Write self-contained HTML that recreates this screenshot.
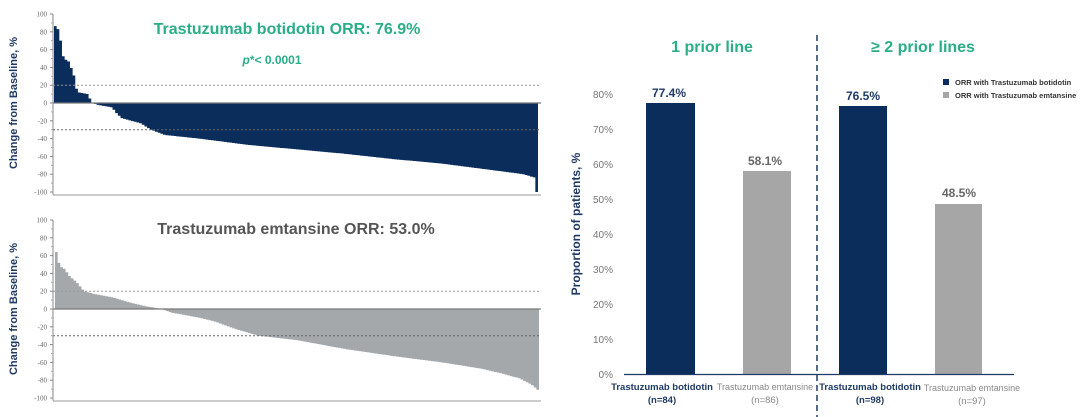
<!DOCTYPE html>
<html><head><meta charset="utf-8"><style>
html,body{margin:0;padding:0;background:#fff;}
svg{display:block;font-family:"Liberation Sans",Arial,sans-serif;}
</style></head><body>
<svg id="s" width="1080" height="417" viewBox="0 0 1080 417" xmlns="http://www.w3.org/2000/svg">
<g id="gtop"></g>
<g id="gbot"></g>
<g font-family="Liberation Serif,serif" font-size="7" fill="#666" text-anchor="end" id="ticks"></g>
<text transform="translate(17,103) rotate(-90)" text-anchor="middle" font-size="11" font-weight="bold" fill="#1f3a64">Change from Baseline, %</text>
<text transform="translate(17,309) rotate(-90)" text-anchor="middle" font-size="11" font-weight="bold" fill="#1f3a64">Change from Baseline, %</text>
<text x="287" y="34" text-anchor="middle" font-size="16" font-weight="bold" fill="#2aae86">Trastuzumab botidotin ORR: 76.9%</text>
<text x="272" y="64" text-anchor="middle" font-size="12" font-weight="bold" fill="#2aae86"><tspan font-style="italic">p</tspan>*&lt; 0.0001</text>
<text x="296" y="234" text-anchor="middle" font-size="16" font-weight="bold" fill="#555">Trastuzumab emtansine ORR: 53.0%</text>

<g font-size="10" fill="#777" text-anchor="end">
<text x="613" y="378">0%</text><text x="613" y="343">10%</text><text x="613" y="308">20%</text><text x="613" y="273">30%</text><text x="613" y="238">40%</text><text x="613" y="203">50%</text><text x="613" y="168">60%</text><text x="613" y="133">70%</text><text x="613" y="98">80%</text>
</g>
<text transform="translate(580,224) rotate(-90)" text-anchor="middle" font-size="12" font-weight="bold" fill="#1f3a64">Proportion of patients, %</text>
<rect x="646" y="103" width="49" height="271" fill="#0b2d5b"/>
<rect x="743" y="171" width="48" height="203" fill="#a6a6a6"/>
<rect x="839" y="106" width="48" height="268" fill="#0b2d5b"/>
<rect x="935" y="204" width="47" height="170" fill="#a6a6a6"/>
<line x1="624" y1="374.5" x2="1014" y2="374.5" stroke="#1f3a64" stroke-width="1.2"/>
<line x1="817" y1="35" x2="817" y2="417" stroke="#1f3a64" stroke-width="1.5" stroke-dasharray="6,4"/>
<g font-size="12" font-weight="bold" text-anchor="middle">
<text x="669" y="97" fill="#1f3a64">77.4%</text>
<text x="765" y="165" fill="#666">58.1%</text>
<text x="863" y="100" fill="#1f3a64">76.5%</text>
<text x="959" y="197" fill="#666">48.5%</text>
</g>
<text x="712" y="52" text-anchor="middle" font-size="16" font-weight="bold" fill="#2aae86">1 prior line</text>
<text x="923" y="52" text-anchor="middle" font-size="16" font-weight="bold" fill="#2aae86">≥ 2 prior lines</text>
<rect x="943" y="79" width="6" height="6" fill="#0b2d5b"/>
<rect x="943" y="92" width="6" height="6" fill="#a6a6a6"/>
<g font-size="7.5" font-weight="bold" fill="#333">
<text x="955" y="85">ORR with Trastuzumab botidotin</text>
<text x="955" y="98">ORR with Trastuzumab emtansine</text>
</g>
<g font-size="9.5" text-anchor="middle">
<text x="662" y="390" fill="#1f3a64" font-weight="bold">Trastuzumab botidotin</text>
<text x="662" y="403" fill="#1f3a64" font-weight="bold">(n=84)</text>
<text x="765" y="390" fill="#888" font-size="9">Trastuzumab emtansine</text>
<text x="765" y="403" fill="#888">(n=86)</text>
<text x="870" y="390" fill="#1f3a64" font-weight="bold">Trastuzumab botidotin</text>
<text x="870" y="403" fill="#1f3a64" font-weight="bold">(n=98)</text>
<text x="972" y="391" fill="#888" font-size="9">Trastuzumab emtansine</text>
<text x="972" y="404" fill="#888">(n=97)</text>
</g>
</svg>
<script>
(function(){
var NS="http://www.w3.org/2000/svg";
function el(p,t,a){var e=document.createElementNS(NS,t);for(var k in a)e.setAttribute(k,a[k]);p.appendChild(e);return e;}
function interp(pts,f){for(var i=1;i<pts.length;i++){if(f<=pts[i][0]){var a=pts[i-1],b=pts[i];return a[1]+(b[1]-a[1])*(f-a[0])/(b[0]-a[0]);}}return pts[pts.length-1][1];}
function wf(g,zero,x0,x1,n,pts,col,botLine){
  var sc=0.89,w=(x1-x0)/n;
  var d="M"+x0+","+zero;
  for(var i=0;i<n;i++){var v=interp(pts,(i+0.5)/n);var x=x0+i*w;var y=(zero-v*sc).toFixed(2);
    d+=" L"+x.toFixed(2)+","+y+" L"+(x+w).toFixed(2)+","+y;}
  d+=" L"+x1+","+zero+" Z";
  el(g,"path",{d:d,fill:col});
  el(g,"line",{x1:53,y1:zero-20*sc,x2:541,y2:zero-20*sc,stroke:"#999","stroke-dasharray":"2,2","stroke-width":1});
  el(g,"line",{x1:53,y1:zero+30*sc,x2:541,y2:zero+30*sc,stroke:"#666","stroke-dasharray":"2,2","stroke-width":1});
  el(g,"line",{x1:53,y1:zero,x2:541,y2:zero,stroke:"#777","stroke-width":1.2});
  el(g,"line",{x1:53,y1:zero-100*sc,x2:53,y2:zero+103*sc,stroke:"#888","stroke-width":1});
  el(g,"line",{x1:53,y1:botLine,x2:541,y2:botLine,stroke:"#999","stroke-width":1});
  var t=document.getElementById("ticks");
  for(var v=100;v>=-100;v-=20){var y=zero-v*sc;el(g,"line",{x1:50,y1:y,x2:53,y2:y,stroke:"#888"});
    var tx=el(t,"text",{x:47,y:y+2.5});tx.textContent=v;}
  for(var v=90;v>=-90;v-=20){var y=zero-v*sc;el(g,"line",{x1:51,y1:y,x2:53,y2:y,stroke:"#aaa"});}
}
var dTop=[[0,88],[0.01,82],[0.02,50],[0.03,47],[0.035,40],[0.04,35],[0.045,18],[0.05,12],[0.07,10],[0.075,4],[0.08,0],[0.09,-2],[0.12,-5],[0.13,-12],[0.14,-17],[0.18,-23],[0.2,-30],[0.23,-36],[0.3,-40],[0.4,-47],[0.5,-52],[0.6,-57],[0.7,-63],[0.8,-68],[0.9,-75],[0.97,-80],[0.994,-84],[0.995,-100],[1,-100]];
var dBot=[[0,70],[0.01,48],[0.02,45],[0.03,37],[0.045,30],[0.06,20],[0.08,17],[0.12,13],[0.15,8],[0.18,4],[0.2,2],[0.22,0],[0.24,-4],[0.3,-10],[0.33,-14],[0.37,-22],[0.42,-30],[0.5,-35],[0.55,-40],[0.6,-45],[0.7,-53],[0.8,-60],[0.88,-67],[0.92,-72],[0.96,-78],[0.985,-85],[1,-92]];
wf(document.getElementById("gtop"),103,54,538,182,dTop,"#0b2d5b",195);
wf(document.getElementById("gbot"),309,55,539,183,dBot,"#a5a8ab",401);
})();
</script>
</body></html>
